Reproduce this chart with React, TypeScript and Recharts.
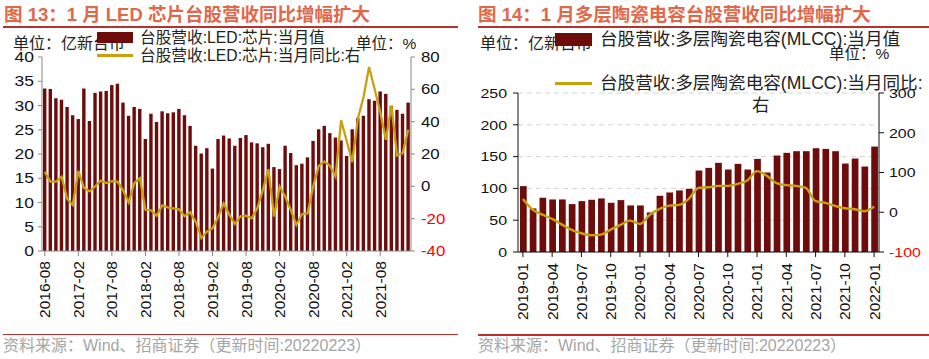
import React from 'react';
import { ComposedChart, Bar, Line, XAxis, YAxis, CartesianGrid } from 'recharts';

const FONT = '"Liberation Sans", Arial, "Noto Sans CJK SC", sans-serif';
const BAR = '#6E0B0B';
const GOLD = '#C9A00E';
const RED_LINE = '#B8312F';
const TITLE = '#E0684B';

// ─── 图13: LED 芯片 ───────────────────────────────────────────────────────────
const ledMonths = [
  '2016-08', '2016-09', '2016-10', '2016-11', '2016-12',
  '2017-01', '2017-02', '2017-03', '2017-04', '2017-05', '2017-06', '2017-07', '2017-08', '2017-09', '2017-10', '2017-11', '2017-12',
  '2018-01', '2018-02', '2018-03', '2018-04', '2018-05', '2018-06', '2018-07', '2018-08', '2018-09', '2018-10', '2018-11', '2018-12',
  '2019-01', '2019-02', '2019-03', '2019-04', '2019-05', '2019-06', '2019-07', '2019-08', '2019-09', '2019-10', '2019-11', '2019-12',
  '2020-01', '2020-02', '2020-03', '2020-04', '2020-05', '2020-06', '2020-07', '2020-08', '2020-09', '2020-10', '2020-11', '2020-12',
  '2021-01', '2021-02', '2021-03', '2021-04', '2021-05', '2021-06', '2021-07', '2021-08', '2021-09', '2021-10', '2021-11', '2021-12',
  '2022-01',
];
const ledRevenue = [
  33.5, 33.4, 31.5, 31.2, 29.7,
  28.0, 27.2, 33.5, 26.8, 32.6, 32.9, 33.0, 34.2, 34.5, 30.6, 27.9, 29.7,
  29.3, 23.1, 28.3, 26.6, 28.8, 28.4, 28.6, 29.3, 28.0, 25.8, 21.7, 20.1,
  21.2, 17.0, 23.1, 23.8, 23.2, 21.7, 23.3, 23.9, 22.4, 22.2, 21.4, 22.1,
  17.3, 16.9, 21.7, 20.2, 17.7, 18.0, 19.3, 22.7, 25.1, 25.8, 24.3, 23.4,
  22.8, 19.6, 25.1, 27.4, 27.9, 31.3, 31.0, 32.9, 32.4, 29.9, 29.1, 28.3,
  30.6,
];
const ledYoY = [
  8.9, 2.9, 2.9, 5.9, -7.6,
  -11.5, 9.5, -1.0, -3.1, -0.1, 3.5, 2.0, 3.2, 2.9, -2.5, -10.0, 2.0,
  5.0, -14.5, -14.8, -18.1, -11.8, -13.0, -13.6, -14.2, -18.4, -16.0, -22.0, -31.9,
  -28.0, -25.9, -19.0, -10.6, -17.5, -23.2, -18.5, -18.1, -19.8, -13.6, -2.2, 10.6,
  -18.7, -0.1, -6.3, -14.6, -23.9, -17.1, -16.7, -0.1, 12.7, 15.4, 12.7, 6.1,
  40.8, 28.0, 15.0, 42.0, 55.0, 73.8, 60.0, 46.0, 28.8, 50.0, 19.0, 20.5,
  35.0,
];
const ledLeftTicks = [0, 5, 10, 15, 20, 25, 30, 35, 40];
const ledRightTicks = [-40, -20, 0, 20, 40, 60, 80];

// ─── 图14: MLCC ───────────────────────────────────────────────────────────────
const mlccMonths = [
  '2019-01', '2019-02', '2019-03', '2019-04', '2019-05', '2019-06', '2019-07', '2019-08', '2019-09', '2019-10', '2019-11', '2019-12',
  '2020-01', '2020-02', '2020-03', '2020-04', '2020-05', '2020-06', '2020-07', '2020-08', '2020-09', '2020-10', '2020-11', '2020-12',
  '2021-01', '2021-02', '2021-03', '2021-04', '2021-05', '2021-06', '2021-07', '2021-08', '2021-09', '2021-10', '2021-11', '2021-12',
  '2022-01',
];
const mlccRevenue = [
  103.6, 68.5, 85.3, 82.6, 82.6, 75.3, 80.0, 82.1, 84.2, 77.4, 81.6, 73.2,
  73.2, 62.2, 88.4, 93.6, 96.8, 99.4, 128.1, 132.3, 140.2, 129.7, 138.6, 129.7,
  146.4, 125.0, 151.7, 155.9, 158.5, 158.5, 163.2, 162.1, 158.5, 139.1, 147.0, 134.4,
  165.8,
];
const mlccYoY = [
  33.6, 6.7, -5.9, -16.8, -31.1, -44.5, -52.9, -58.0, -56.3, -43.7, -31.9, -21.0,
  -29.4, -6.7, 8.4, 16.8, 18.5, 33.6, 61.3, 63.0, 66.4, 66.4, 71.4, 79.8,
  103.4, 91.6, 73.1, 68.1, 66.4, 61.3, 27.7, 23.5, 16.0, 10.1, 7.6, 2.5,
  14.3,
];
const mlccLeftTicks = [0, 50, 100, 150, 200, 250];
const mlccRightTicks = [-100, 0, 100, 200, 300];

const ledData = ledMonths.map((m, i) => ({ m, v: ledRevenue[i], y: ledYoY[i] }));
const mlccData = mlccMonths.map((m, i) => ({ m, v: mlccRevenue[i], y: mlccYoY[i] }));

// ─── helpers ─────────────────────────────────────────────────────────────────
const YTick = (props: any) => {
  const { x, y, payload, anchor, sx, size } = props;
  const neg = payload.value < 0;
  return (
    <g transform={`translate(${x},${y}) scale(${sx},1)`}>
      <text textAnchor={anchor} dy="0.36em" fontSize={size} fontFamily={FONT} fill={neg ? '#ff0000' : '#111'}>
        {payload.value}
      </text>
    </g>
  );
};

const XTick = (props: any) => {
  const { x, y, payload } = props;
  return (
    <text
      transform={`translate(${x},${y}) rotate(-90)`}
      textAnchor="end"
      dy="0.35em"
      fontSize={15.5}
      fontFamily={FONT}
      fill="#111"
    >
      {payload.value}
    </text>
  );
};

const Txt: React.FC<{ x: number; y: number; size: number; color?: string; bold?: boolean; children: React.ReactNode }> = ({
  x, y, size, color = '#222', bold, children,
}) => (
  <div
    style={{
      position: 'absolute', left: x, top: y, fontSize: size, lineHeight: `${size + 2}px`,
      transform: 'translateY(-50%)', whiteSpace: 'nowrap', color, fontFamily: FONT,
      fontWeight: bold ? 700 : 400,
    }}
  >
    {children}
  </div>
);

const Rect: React.FC<{ x: number; y: number; w: number; h: number; c: string }> = ({ x, y, w, h, c }) => (
  <div style={{ position: 'absolute', left: x, top: y, width: w, height: h, background: c }} />
);

export default function App() {
  return (
    <div style={{ position: 'absolute', left: 0, top: 0, width: 929, height: 359, overflow: 'hidden', background: '#fff' }}>
      {/* left chart */}
      <div style={{ position: 'absolute', left: 0, top: 0 }}>
        <ComposedChart width={460} height={330} data={ledData} margin={{ top: 57, right: 0, bottom: 0, left: 0 }}>
          <XAxis
            dataKey="m"
            interval={5}
            height={79}
            tickSize={5}
            tickMargin={5}
            tick={(p: any) => <XTick {...p} />}
            axisLine={{ stroke: '#888' }}
            tickLine={{ stroke: '#888' }}
          />
          <YAxis
            yAxisId="l"
            domain={[0, 40]}
            ticks={ledLeftTicks}
            width={42}
            tickSize={4}
            tickMargin={4}
            axisLine={{ stroke: '#888' }}
            tickLine={{ stroke: '#888' }}
            tick={(p: any) => <YTick {...p} anchor="end" sx={1.25} size={14} />}
          />
          <YAxis
            yAxisId="r"
            orientation="right"
            domain={[-40, 80]}
            ticks={ledRightTicks}
            width={49}
            tickSize={4}
            tickMargin={6}
            axisLine={{ stroke: '#888' }}
            tickLine={{ stroke: '#888' }}
            tick={(p: any) => <YTick {...p} anchor="start" sx={1.2} size={14} />}
          />
          <Bar yAxisId="l" dataKey="v" fill={BAR} barSize={3.4} isAnimationActive={false} />
          <Line yAxisId="r" dataKey="y" type="linear" stroke={GOLD} strokeWidth={2.3} dot={false} isAnimationActive={false} />
        </ComposedChart>
      </div>

      {/* right chart */}
      <div style={{ position: 'absolute', left: 470, top: 0 }}>
        <ComposedChart width={459} height={330} data={mlccData} margin={{ top: 93, right: 0, bottom: 0, left: 0 }}>
          <CartesianGrid yAxisId="l" vertical={false} stroke="#d4d4d4" strokeDasharray="5 4" />
          <XAxis
            dataKey="m"
            interval={2}
            height={78}
            tickSize={5}
            tickMargin={6}
            tick={(p: any) => <XTick {...p} />}
            axisLine={{ stroke: '#111' }}
            tickLine={{ stroke: '#111' }}
          />
          <YAxis
            yAxisId="l"
            domain={[0, 250]}
            ticks={mlccLeftTicks}
            width={48}
            tickSize={5}
            tickMargin={6}
            axisLine={{ stroke: '#111' }}
            tickLine={{ stroke: '#111' }}
            tick={(p: any) => <YTick {...p} anchor="end" sx={1.18} size={13.5} />}
          />
          <YAxis
            yAxisId="r"
            orientation="right"
            domain={[-100, 300]}
            ticks={mlccRightTicks}
            width={50}
            tickSize={5}
            tickMargin={5}
            axisLine={{ stroke: '#111' }}
            tickLine={{ stroke: '#111' }}
            tick={(p: any) => <YTick {...p} anchor="start" sx={1.18} size={13.5} />}
          />
          <Bar yAxisId="l" dataKey="v" fill={BAR} barSize={6.7} isAnimationActive={false} />
          <Line yAxisId="r" dataKey="y" type="monotone" stroke={GOLD} strokeWidth={2.4} dot={false} isAnimationActive={false} />
        </ComposedChart>
      </div>

      {/* titles and rules */}
      <Txt x={4} y={15} size={18.5} color={TITLE} bold>图 13：1 月 LED 芯片台股营收同比增幅扩大</Txt>
      <Txt x={478} y={15} size={18.5} color={TITLE} bold>图 14：1 月多层陶瓷电容台股营收同比增幅扩大</Txt>
      <Rect x={3} y={26} w={455} h={1.5} c={RED_LINE} />
      <Rect x={478} y={26} w={451} h={1.5} c={RED_LINE} />
      <Rect x={3} y={333.5} w={455} h={1.5} c={RED_LINE} />
      <Rect x={478} y={334} w={451} h={1.5} c={RED_LINE} />

      {/* left legend / units */}
      <Txt x={13} y={44} size={16}>单位：亿新台币</Txt>
      <Txt x={356} y={44} size={15.5}>单位：%</Txt>
      <Txt x={140} y={38} size={15.7}>台股营收:LED:芯片:当月值</Txt>
      <Txt x={140} y={56} size={15.7}>台股营收:LED:芯片:当月同比:右</Txt>
      <Rect x={97} y={32} w={36} h={11} c={BAR} />
      <Rect x={97} y={54} w={36} h={2.5} c={GOLD} />

      {/* right legend / units */}
      <Txt x={480} y={44} size={16}>单位：亿新台币</Txt>
      <Txt x={829} y={54} size={15.5}>单位：%</Txt>
      <Txt x={600} y={40} size={17.6}>台股营收:多层陶瓷电容(MLCC):当月值</Txt>
      <Txt x={600} y={84} size={17.6}>台股营收:多层陶瓷电容(MLCC):当月同比:</Txt>
      <Txt x={752} y={106} size={17.4}>右</Txt>
      <Rect x={555} y={33} w={37} h={13} c={BAR} />
      <Rect x={555} y={82} w={37} h={2.5} c={GOLD} />

      {/* sources */}
      <Txt x={3} y={346} size={16} color="#a6a6a6">资料来源：Wind、招商证券（更新时间:20220223）</Txt>
      <Txt x={478} y={346} size={16} color="#a6a6a6">资料来源：Wind、招商证券（更新时间:20220223）</Txt>
    </div>
  );
}
